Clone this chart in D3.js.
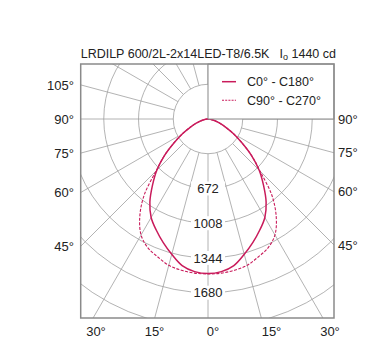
<!DOCTYPE html>
<html>
<head>
<meta charset="utf-8">
<script src="https://d3js.org/d3.v7.min.js"></script>
<style>
body { margin: 0; background: #fff; }
text { font-family: "Liberation Sans", Arial, sans-serif; fill: #222; }
</style>
</head>
<body>
<svg id="chart" width="381" height="354"></svg>
<script>
// gamma angles (deg from nadir) and intensities in cd
var angles   = [0, 5, 10, 15, 20, 25, 30, 35, 40, 45, 50, 55, 60, 65, 70, 75, 80, 85, 90];
var c0c180   = [1495, 1482, 1440, 1355, 1270, 1185, 1100, 980, 835, 700, 550, 400, 285, 190, 125, 75, 38, 12, 0];
var c90c270  = [1498, 1496, 1485, 1465, 1420, 1375, 1295, 1150, 960, 710, 550, 400, 285, 190, 125, 75, 38, 12, 0];
var ringValues = [336, 672, 1008, 1344, 1680, 2016, 2352];
var ringLabels = [672, 1008, 1344, 1680];
var sideLeft  = [45, 60, 75, 90, 105];
var sideRight = [45, 60, 75, 90];
var bottomTicks = [-30, -15, 0, 15, 30];
var legendNames = ["C0° - C180°", "C90° - C270°"];

var box = {x0: 80.7, y0: 64, x1: 334, y1: 318};
var cx = 208, cy = 119;
var red = "#c91b5b";

var svg = d3.select("#chart");

// radius scale: 336 cd = 34.74 px
var r = d3.scaleLinear().domain([0, 336]).range([0, 34.74]);
var xb = d3.scaleLinear().domain([-30, 30]).range([96, 330]);

var rad = function(d) { return d * Math.PI / 180; };

svg.append("defs").append("clipPath").attr("id", "clip")
  .append("rect")
  .attr("x", box.x0).attr("y", box.y0)
  .attr("width", box.x1 - box.x0).attr("height", box.y1 - box.y0);

var g = svg.append("g").attr("clip-path", "url(#clip)");
var c = g.append("g").attr("transform", "translate(" + cx + "," + cy + ")");

// grid circles (not inside the inner one)
c.selectAll("circle.ring")
  .data(ringValues)
  .enter().append("circle")
  .attr("class", "ring")
  .attr("r", function(d) { return r(d); })
  .attr("fill", "none")
  .attr("stroke", "#a0a0a0")
  .attr("stroke-width", 0.8);

// radial lines every 15 deg, starting at inner circle
c.selectAll("line.spoke")
  .data(d3.range(0, 360, 15))
  .enter().append("line")
  .attr("class", "spoke")
  .attr("x1", function(d) { return r(336) * Math.sin(rad(d)); })
  .attr("y1", function(d) { return r(336) * Math.cos(rad(d)); })
  .attr("x2", function(d) { return r(4000) * Math.sin(rad(d)); })
  .attr("y2", function(d) { return r(4000) * Math.cos(rad(d)); })
  .attr("stroke", "#a0a0a0")
  .attr("stroke-width", 0.8);

// ring value labels on the nadir axis
var lab = c.selectAll("g.rl")
  .data(ringLabels)
  .enter().append("g")
  .attr("class", "rl")
  .attr("transform", function(d) { return "translate(0," + r(d) + ")"; });
lab.append("rect")
  .attr("x", -17).attr("y", -7).attr("width", 34).attr("height", 14)
  .attr("fill", "#fff");
lab.append("text")
  .attr("text-anchor", "middle")
  .attr("dy", "0.36em")
  .style("font-size", "13px")
  .text(function(d) { return d; });

// curves, mirrored for both sides
function fullCurve(vals) {
  var pts = [];
  for (var i = angles.length - 1; i > 0; i--) pts.push([-angles[i], vals[i]]);
  for (var j = 0; j < angles.length; j++) pts.push([angles[j], vals[j]]);
  return pts;
}
var line = d3.lineRadial()
  .angle(function(d) { return Math.PI - rad(d[0]); })
  .radius(function(d) { return r(d[1]); })
  .curve(d3.curveCatmullRom);

c.append("path")
  .attr("d", line(fullCurve(c90c270)))
  .attr("fill", "none")
  .attr("stroke", red)
  .attr("stroke-width", 1.1)
  .attr("stroke-dasharray", "3,1.5");
c.append("path")
  .attr("d", line(fullCurve(c0c180)))
  .attr("fill", "none")
  .attr("stroke", red)
  .attr("stroke-width", 1.5);

// legend box
var lg = svg.append("g");
lg.append("rect")
  .attr("x", cx).attr("y", box.y0)
  .attr("width", box.x1 - cx).attr("height", cy - box.y0)
  .attr("fill", "#fff")
  .attr("stroke", "#888")
  .attr("stroke-width", 1);
var li = lg.selectAll("g.li")
  .data(legendNames)
  .enter().append("g")
  .attr("transform", function(d, i) { return "translate(0," + (81.7 + i * 18.5) + ")"; });
li.append("line")
  .attr("x1", 222).attr("x2", 236)
  .attr("stroke", red)
  .attr("stroke-width", function(d, i) { return i ? 1.1 : 1.5; })
  .attr("stroke-dasharray", function(d, i) { return i ? "2,1.2" : null; });
li.append("text")
  .attr("x", 247).attr("dy", "0.36em")
  .style("font-size", "12.5px")
  .text(function(d) { return d; });

// frame
svg.append("rect")
  .attr("x", box.x0).attr("y", box.y0)
  .attr("width", box.x1 - box.x0).attr("height", box.y1 - box.y0)
  .attr("fill", "none")
  .attr("stroke", "#8a8a8a")
  .attr("stroke-width", 1.5);

// side angle labels where spokes meet the frame
var halfL = cx - box.x0, halfR = box.x1 - cx;
svg.selectAll("text.sl")
  .data(sideLeft)
  .enter().append("text")
  .attr("x", 74)
  .attr("y", function(d) { return cy + halfL / Math.tan(rad(d)); })
  .attr("dy", "0.36em")
  .attr("text-anchor", "end")
  .style("font-size", "13px")
  .text(function(d) { return d + "°"; });
svg.selectAll("text.sr")
  .data(sideRight)
  .enter().append("text")
  .attr("x", 338)
  .attr("y", function(d) { return cy + halfR / Math.tan(rad(d)); })
  .attr("dy", "0.36em")
  .style("font-size", "13px")
  .text(function(d) { return d + "°"; });
svg.selectAll("text.bl")
  .data(bottomTicks)
  .enter().append("text")
  .attr("x", function(d) { return xb(d); })
  .attr("y", 336)
  .attr("text-anchor", "middle")
  .style("font-size", "13px")
  .text(function(d) { return Math.abs(d) + "°"; });

// title
svg.append("text")
  .attr("x", box.x0).attr("y", 58)
  .style("font-size", "12.5px")
  .text("LRDILP 600/2L-2x14LED-T8/6.5K");
var t2 = svg.append("text")
  .attr("x", 336).attr("y", 58)
  .attr("text-anchor", "end")
  .style("font-size", "12.5px");
t2.append("tspan").text("I");
t2.append("tspan").attr("dy", 2).style("font-size", "9px").text("o");
t2.append("tspan").attr("dy", -2).text(" 1440 cd");
</script>
</body>
</html>
